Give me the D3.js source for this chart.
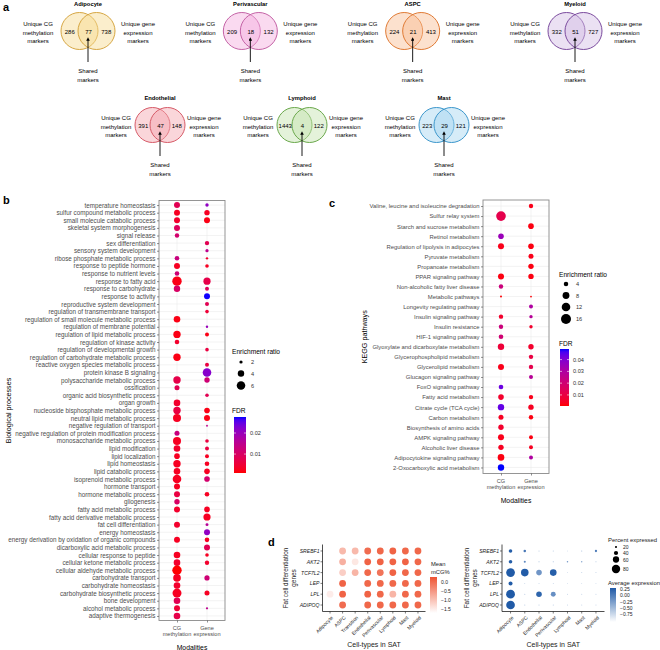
<!DOCTYPE html>
<html><head><meta charset="utf-8">
<script src="https://cdn.jsdelivr.net/npm/d3@7"></script>
<style>body{margin:0;background:#fff}svg{display:block}</style>
</head><body><svg id="fig" width="660" height="650"></svg>
<script>
// ================= DATA =================
// Panel a: Venn counts
const vennCells = ["Adipocyte","Perivascular","ASPC","Myeloid","Endothelial","Lymphoid","Mast"];
const vennUniqueCG = [286,209,224,332,391,1443,223];
const vennShared = [77,18,21,51,47,4,29];
const vennUniqueGene = [738,132,413,727,148,122,121];
const vennFill = ["#f7d98f","#f5aede","#f9bd92","#d2bde4","#f5a5ad","#c3e2ad","#a3d4ef"];
const vennStroke = ["#d6a642","#c462a6","#e07a34","#7b4b9e","#d65b68","#6aa84b","#3c97cc"];

// Panel b: GO biological processes
const modalities = ["CG methylation","Gene expression"];
const bTerms = ["temperature homeostasis","sulfur compound metabolic process","small molecule catabolic process","skeletal system morphogenesis","signal release","sex differentiation","sensory system development","ribose phosphate metabolic process","response to peptide hormone","response to nutrient levels","response to fatty acid","response to carbohydrate","response to activity","reproductive system development","regulation of transmembrane transport","regulation of small molecule metabolic process","regulation of membrane potential","regulation of lipid metabolic process","regulation of kinase activity","regulation of developmental growth","regulation of carbohydrate metabolic process","reactive oxygen species metabolic process","protein kinase B signaling","polysaccharide metabolic process","ossification","organic acid biosynthetic process","organ growth","nucleoside bisphosphate metabolic process","neutral lipid metabolic process","negative regulation of transport","negative regulation of protein modification process","monosaccharide metabolic process","lipid modification","lipid localization","lipid homeostasis","lipid catabolic process","isoprenoid metabolic process","hormone transport","hormone metabolic process","gliogenesis","fatty acid metabolic process","fatty acid derivative metabolic process","fat cell differentiation","energy homeostasis","energy derivation by oxidation of organic compounds","dicarboxylic acid metabolic process","cellular response to peptide","cellular ketone metabolic process","cellular aldehyde metabolic process","carbohydrate transport","carbohydrate homeostasis","carbohydrate biosynthetic process","bone development","alcohol metabolic process","adaptive thermogenesis"];
const bCgER = [3.64,3.64,3.64,3.64,2.58,null,null,2.69,3.64,2.69,7.0,3.96,null,null,null,4.13,null,4.84,2.69,null,4.84,null,null,4.84,2.94,null,4.13,4.84,5.44,null,2.94,5.44,4.13,3.35,4.84,4.13,6.07,3.64,3.64,3.2,3.64,null,3.64,null,3.64,null,4.13,4.13,7.0,5.04,4.13,6.53,4.13,3.64,4.13];
const bCgFDR = [.008,.003,.004,.009,.011,null,null,.013,.003,.012,.002,.010,null,null,null,.002,null,.002,.004,null,.002,null,null,.007,.008,null,.004,.006,.003,null,.013,.003,.004,.003,.003,.003,.003,.003,.006,.010,.004,null,.004,null,.003,null,.003,.004,.001,.003,.004,.003,.008,.005,.007];
const bGeneER = [2.08,3.2,3.64,null,null,2.58,2.0,1.7,2.17,null,4.66,2.36,3.64,2.36,2.17,null,1.7,2.36,null,2.17,null,2.36,6.07,3.2,null,2.17,null,3.35,3.64,1.55,null,2.17,2.36,2.36,2.69,3.35,3.35,null,2.69,null,3.35,4.66,1.9,3.64,2.69,3.64,2.17,2.58,null,3.07,null,2.94,null,1.65,null];
const bGeneFDR = [.021,.003,.002,null,null,.008,.015,.004,.003,null,.007,.009,.0275,.008,.005,null,.020,.002,null,.006,null,.006,.022,.012,null,.008,null,.002,.002,.015,null,.006,.006,.003,.003,.003,.011,null,.003,null,.003,.003,.016,.021,.003,.008,.003,.004,null,.012,null,.003,null,.015,null];
const bSizeBreaks = [2,4,6];
const bFdrBreaks = [0.01,0.02];

// Panel c: KEGG pathways
const cTerms = ["Valine, leucine and isoleucine degradation","Sulfur relay system","Starch and sucrose metabolism","Retinol metabolism","Regulation of lipolysis in adipocytes","Pyruvate metabolism","Propanoate metabolism","PPAR signaling pathway","Non-alcoholic fatty liver disease","Metabolic pathways","Longevity regulating pathway","Insulin signaling pathway","Insulin resistance","HIF-1 signaling pathway","Glyoxylate and dicarboxylate metabolism","Glycerophospholipid metabolism","Glycerolipid metabolism","Glucagon signaling pathway","FoxO signaling pathway","Fatty acid metabolism","Citrate cycle (TCA cycle)","Carbon metabolism","Biosynthesis of amino acids","AMPK signaling pathway","Alcoholic liver disease","Adipocytokine signaling pathway","2-Oxocarboxylic acid metabolism"];
const cCgER = [null,15,null,5.7,6.4,null,null,6.4,3.9,1.6,null,3.9,3.9,4.2,7.1,null,6.4,null,4.2,5.7,7.1,4.75,5.37,6.4,5.37,7.5,7.1];
const cCgFDR = [null,.012,null,.035,.003,null,null,.002,.022,.001,null,.006,.022,.020,.008,null,.003,null,.043,.006,.044,.004,.006,.003,.004,.002,.049];
const cGeneER = [3.9,null,5.7,null,5.7,4.75,5.37,5.37,null,1.5,3.4,2.75,2.75,null,5.37,3.9,3.9,3.4,null,3.9,5.37,3.9,null,3.4,3.4,3.4,null];
const cGeneFDR = [.003,null,.002,null,.002,.003,.002,.002,null,.001,.030,.028,.006,null,.006,.010,.012,.028,null,.003,.004,.002,null,.002,.004,.030,null];
const cSizeBreaks = [4,8,12,16];
const cFdrBreaks = [0.01,0.02,0.03,0.04];

// Panel d
const dGenes = ["SREBF1","AKT2","TCF7L2","LEP","LPL","ADIPOQ"];
const dCellsMethyl = ["Adipocyte","ASPC","Transition","Endothelial","Perivascular","Lymphoid","Mast","Myeloid"];
const mcgSREBF1 = [null,-0.9,-0.9,0.0,0.05,0.1,0.05,0.05];
const mcgAKT2   = [null,-0.8,-1.45,0.1,0.1,0.1,0.1,0.05];
const mcgTCF7L2 = [null,-1.15,-0.85,0.05,-0.1,0.1,0.05,0.05];
const mcgLEP    = [null,0.1,null,0.05,0.05,0.05,0.05,0.05];
const mcgLPL    = [-1.5,0.1,null,0.1,0.05,-0.85,0.05,0.05];
const mcgADIPOQ = [null,0.0,null,0.05,0.05,0.05,0.05,0.05];
const mcgBreaks = [0.0,-0.5,-1.0,-1.5];
const dCellsExpr = ["Adipocyte","ASPC","Endothelial","Perivascular","Lymphoid","Mast","Myeloid"];
const pctSREBF1 = [34,24,10,10,9,10,22];
const pctAKT2   = [34,20,10,10,14,13,10];
const pctTCF7L2 = [83,72,53,63,9,10,10];
const pctLEP    = [38,9,9,9,9,9,9];
const pctLPL    = [84,10,53,47,10,10,10];
const pctADIPOQ = [83,10,10,10,10,10,10];
const avgSREBF1 = [0.25,0.05,-0.6,-0.6,-0.7,-0.5,0.0];
const avgAKT2   = [0.25,-0.1,-0.5,-0.5,-0.2,-0.3,-0.6];
const avgTCF7L2 = [0.28,0.27,-0.2,0.25,-0.7,-0.7,-0.7];
const avgLEP    = [0.28,-0.6,-0.6,-0.6,-0.7,-0.7,-0.7];
const avgLPL    = [0.28,-0.6,0.2,-0.15,-0.7,-0.7,-0.7];
const avgADIPOQ = [0.28,-0.6,-0.6,-0.6,-0.7,-0.7,-0.7];
const pctBreaks = [20,40,60,80];
const avgBreaks = [0.25,0.00,-0.25,-0.50,-0.75];

// ================= DRAW =================
const FONT = '"Liberation Sans", Arial, Helvetica, sans-serif';
const svg = d3.select("#fig").attr("font-family", FONT);
const defs = svg.append("defs");
defs.append("marker").attr("id","arr").attr("viewBox","0 0 10 10").attr("refX",5).attr("refY",5)
  .attr("markerWidth",4).attr("markerHeight",4).attr("orient","auto")
  .append("path").attr("d","M0,0L10,5L0,10z").attr("fill","#000");

function txt(g, x, y, s, o = {}) {
  return g.append("text").attr("x", x).attr("y", y).text(s)
    .attr("font-size", o.fs || 6).attr("fill", o.fill || "#000")
    .attr("text-anchor", o.anchor || "start")
    .attr("dominant-baseline", o.base || "central")
    .attr("font-weight", o.bold ? "bold" : null)
    .attr("font-style", o.italic ? "italic" : null)
    .attr("transform", o.rot ? `rotate(${o.rot},${x},${y})` : null);
}

// ---------- Panel a ----------
const ga = svg.append("g");
txt(ga, 3, 7, "a", {fs: 11, bold: true});
const vx1 = d3.scalePoint().domain(vennCells.slice(0,4)).range([88, 575]);
const vx2 = d3.scalePoint().domain(vennCells.slice(4)).range([160, 444]);
vennCells.forEach((c, i) => {
  const row = i < 4 ? 0 : 1;
  const cx = row === 0 ? vx1(c) : vx2(c);
  const cy = row === 0 ? 31 : 125;
  const r = row === 0 ? 18.5 : 17.5;
  const d = row === 0 ? 17 : 15;
  const off = row === 0 ? 50 : 44;
  const g = ga.append("g");
  txt(g, cx, cy - 27, c, {fs: 5.8, bold: true, anchor: "middle"});
  [cx - d/2, cx + d/2].forEach(x => {
    g.append("circle").attr("cx", x).attr("cy", cy).attr("r", r)
      .attr("fill", vennFill[i]).attr("fill-opacity", 0.45)
      .attr("stroke", vennStroke[i]).attr("stroke-width", 1);
  });
  txt(g, cx - d/2 - r/2 - 0.5, cy + 0.5, vennUniqueCG[i], {fs: 6, anchor: "middle"});
  txt(g, cx + 0.5, cy + 0.5, vennShared[i], {fs: 6, anchor: "middle"});
  txt(g, cx + d/2 + r/2 + 0.5, cy + 0.5, vennUniqueGene[i], {fs: 6, anchor: "middle"});
  ["Unique CG","methylation","markers"].forEach((s, k) => txt(g, cx - off, cy - 7 + k*8.5, s, {fs: 6, anchor: "middle"}));
  ["Unique gene","expression","markers"].forEach((s, k) => txt(g, cx + off, cy - 7 + k*8.5, s, {fs: 6, anchor: "middle"}));
  g.append("line").attr("x1", cx).attr("x2", cx).attr("y1", cy + 31).attr("y2", cy + 8)
    .attr("stroke", "#000").attr("stroke-width", 0.9).attr("marker-end", "url(#arr)");
  ["Shared","markers"].forEach((s, k) => txt(g, cx, cy + 40 + k*8.5, s, {fs: 6, anchor: "middle"}));
});

// ---------- dot plot helper (b, c) ----------
function dotPlot(cfg) {
  const g = svg.append("g");
  const x = d3.scalePoint().domain(modalities).range([cfg.x0, cfg.x1]).padding(0.6);
  const y = d3.scalePoint().domain(cfg.terms).range([cfg.y0, cfg.y1]).padding(0.6);
  g.append("rect").attr("x", cfg.x0).attr("y", cfg.y0).attr("width", cfg.x1 - cfg.x0).attr("height", cfg.y1 - cfg.y0).attr("fill", "#fff");
  g.selectAll(".hg").data(cfg.terms).join("line").attr("x1", cfg.x0).attr("x2", cfg.x1)
    .attr("y1", d => y(d)).attr("y2", d => y(d)).attr("stroke", "#ebebeb").attr("stroke-width", 0.6);
  g.selectAll(".vg").data(modalities).join("line").attr("y1", cfg.y0).attr("y2", cfg.y1)
    .attr("x1", d => x(d)).attr("x2", d => x(d)).attr("stroke", "#ebebeb").attr("stroke-width", 0.6);
  const pts = [];
  cfg.terms.forEach((t, i) => {
    if (cfg.cgER[i] != null) pts.push({t, m: modalities[0], er: cfg.cgER[i], fdr: cfg.cgFDR[i]});
    if (cfg.geneER[i] != null) pts.push({t, m: modalities[1], er: cfg.geneER[i], fdr: cfg.geneFDR[i]});
  });
  g.selectAll("circle.pt").data(pts).join("circle").attr("class", "pt")
    .attr("cx", d => x(d.m)).attr("cy", d => y(d.t))
    .attr("r", d => Math.sqrt(Math.max(0.3, cfg.area(d.er)))).attr("fill", d => cfg.color(d.fdr));
  g.append("rect").attr("x", cfg.x0).attr("y", cfg.y0).attr("width", cfg.x1 - cfg.x0).attr("height", cfg.y1 - cfg.y0)
    .attr("fill", "none").attr("stroke", "#8a8a8a").attr("stroke-width", 0.9);
  const ya = g.append("g").attr("transform", `translate(${cfg.x0},0)`).call(d3.axisLeft(y).tickSize(2).tickPadding(1.5));
  ya.select(".domain").remove();
  ya.selectAll("line").attr("stroke", "#444").attr("stroke-width", 0.6);
  ya.selectAll("text").attr("font-size", cfg.fs).attr("fill", "#4d4d4d").attr("font-family", FONT);
  const xa = g.append("g").attr("transform", `translate(0,${cfg.y1})`).call(d3.axisBottom(x).tickSize(2).tickFormat(""));
  xa.select(".domain").remove();
  xa.selectAll("line").attr("stroke", "#444").attr("stroke-width", 0.6);
  modalities.forEach(m => {
    const parts = m.split(" ");
    parts.forEach((p, k) => txt(g, x(m), cfg.y1 + 7 + k * 6.5, p, {fs: 5.6, anchor: "middle", fill: "#4d4d4d"}));
  });
  txt(g, (cfg.x0 + cfg.x1) / 2, cfg.y1 + 27, "Modalities", {fs: 6.8, anchor: "middle"});
  txt(g, cfg.ytx, (cfg.y0 + cfg.y1) / 2, cfg.ytitle, {fs: 7.2, anchor: "middle", rot: -90});
  // size legend
  const L = cfg.leg;
  txt(g, L.x, L.ty, "Enrichment ratio", {fs: 6.6});
  cfg.sizeBreaks.forEach((b, k) => {
    g.append("circle").attr("cx", L.dx).attr("cy", L.sy[k]).attr("r", Math.sqrt(cfg.area(b))).attr("fill", "#000");
    txt(g, L.lx, L.sy[k], b, {fs: 5.6, fill: "#333"});
  });
  // color legend
  txt(g, L.x, L.fty, "FDR", {fs: 6.6});
  const gid = "grad" + cfg.id;
  const grad = defs.append("linearGradient").attr("id", gid).attr("x1", 0).attr("x2", 0).attr("y1", 1).attr("y2", 0);
  const dom = cfg.color.domain();
  d3.range(0, 1.0001, 0.05).forEach(t => grad.append("stop").attr("offset", t).attr("stop-color", cfg.color(dom[0] + t * (dom[1] - dom[0]))));
  const by = d3.scaleLinear().domain(dom).range([L.by1, L.by0]);
  g.append("rect").attr("x", L.bx).attr("y", L.by0).attr("width", L.bw).attr("height", L.by1 - L.by0).attr("fill", `url(#${gid})`);
  cfg.fdrBreaks.forEach(b => {
    g.append("line").attr("x1", L.bx).attr("x2", L.bx + 2).attr("y1", by(b)).attr("y2", by(b)).attr("stroke", "#fff").attr("stroke-width", 0.6);
    g.append("line").attr("x1", L.bx + L.bw - 2).attr("x2", L.bx + L.bw).attr("y1", by(b)).attr("y2", by(b)).attr("stroke", "#fff").attr("stroke-width", 0.6);
    txt(g, L.bx + L.bw + 4, by(b), d3.format(".2f")(b), {fs: 5.6, fill: "#333"});
  });
}

// ---------- Panel b ----------
txt(svg, 3, 200, "b", {fs: 11, bold: true});
dotPlot({
  id: "b", terms: bTerms, cgER: bCgER, cgFDR: bCgFDR, geneER: bGeneER, geneFDR: bGeneFDR,
  x0: 159, x1: 225, y0: 200.5, y1: 620.5, fs: 6.3, ytx: 8, ytitle: "Biological processes",
  area: d3.scaleLinear().domain([1.5, 7]).range([0.64, 22.1]),
  color: d3.scaleLinear().domain([0.001, 0.0276]).range(["red", "blue"]).interpolate(d3.interpolateLab),
  sizeBreaks: bSizeBreaks, fdrBreaks: bFdrBreaks,
  leg: {x: 232, ty: 351, dx: 241, lx: 251, sy: [362, 373.5, 385.5], fty: 410, bx: 234, bw: 12, by0: 417, by1: 473}
});

// ---------- Panel c ----------
txt(svg, 329, 203, "c", {fs: 11, bold: true});
dotPlot({
  id: "c", terms: cTerms, cgER: cCgER, cgFDR: cCgFDR, geneER: cGeneER, geneFDR: cGeneFDR,
  x0: 483, x1: 549, y0: 200, y1: 473.5, fs: 5.9, ytx: 364, ytitle: "KEGG pathways",
  area: d3.scaleLinear().domain([1.5, 17]).range([0.8, 26.8]),
  color: d3.scaleLinear().domain([0.0006, 0.049]).range(["red", "blue"]).interpolate(d3.interpolateLab),
  sizeBreaks: cSizeBreaks, fdrBreaks: cFdrBreaks,
  leg: {x: 559, ty: 274, dx: 566, lx: 576, sy: [284, 295.5, 307, 319], fty: 343, bx: 560, bw: 9, by0: 349, by1: 406}
});

// ---------- Panel d ----------
txt(svg, 268, 542, "d", {fs: 11, bold: true});
function dAxes(g, x, y, x0, x1, y0, y1, cells, tx1, tx2) {
  g.append("line").attr("x1", x0).attr("x2", x0).attr("y1", y0).attr("y2", y1).attr("stroke", "#222").attr("stroke-width", 0.8);
  g.append("line").attr("x1", x0).attr("x2", x1).attr("y1", y1).attr("y2", y1).attr("stroke", "#222").attr("stroke-width", 0.8);
  dGenes.forEach(gn => {
    g.append("line").attr("x1", x0 - 2).attr("x2", x0).attr("y1", y(gn)).attr("y2", y(gn)).attr("stroke", "#222").attr("stroke-width", 0.6);
    txt(g, x0 - 3, y(gn), gn, {fs: 5.1, anchor: "end", italic: true, fill: "#222"});
  });
  cells.forEach(c => {
    g.append("line").attr("x1", x(c)).attr("x2", x(c)).attr("y1", y1).attr("y2", y1 + 2).attr("stroke", "#222").attr("stroke-width", 0.6);
    g.append("text").attr("x", x(c) + 2).attr("y", y1 + 5).text(c).attr("font-size", 5).attr("fill", "#222")
      .attr("text-anchor", "end").attr("dominant-baseline", "central")
      .attr("transform", `rotate(-45,${x(c) + 2},${y1 + 5})`);
  });
  txt(g, tx1, (y0 + y1) / 2, "Fat cell differentiation", {fs: 6.4, anchor: "middle", rot: -90, fill: "#222"});
  txt(g, tx2, (y0 + y1) / 2, "genes", {fs: 6.4, anchor: "middle", rot: -90, fill: "#222"});
  txt(g, (x0 + x1) / 2, 644, "Cell-types in SAT", {fs: 7, anchor: "middle", fill: "#222"});
}
// left: methylation
{
  const g = svg.append("g");
  const x0 = 322.5, x1 = 425.5, y0 = 544.5, y1 = 611.5;
  const x = d3.scalePoint().domain(dCellsMethyl).range([x0, x1]).padding(0.6);
  const y = d3.scalePoint().domain(dGenes).range([y0, y1]).padding(0.6);
  const col = d3.scaleLinear().domain([-1.72, 0.28]).range(["#ffffff", "#ee5433"]);
  const rows = [mcgSREBF1, mcgAKT2, mcgTCF7L2, mcgLEP, mcgLPL, mcgADIPOQ];
  const pts = [];
  rows.forEach((r, i) => r.forEach((v, j) => { if (v != null) pts.push({g: dGenes[i], c: dCellsMethyl[j], v}); }));
  g.selectAll("circle").data(pts).join("circle").attr("cx", d => x(d.c)).attr("cy", d => y(d.g)).attr("r", 3.4).attr("fill", d => col(d.v));
  dAxes(g, x, y, x0, x1, y0, y1, dCellsMethyl, 285, 293);
  txt(g, 431, 564, "Mean", {fs: 5.8, fill: "#222"});
  txt(g, 431, 571.5, "mCG%", {fs: 5.8, fill: "#222"});
  const grad = defs.append("linearGradient").attr("id", "gradM").attr("x1", 0).attr("x2", 0).attr("y1", 1).attr("y2", 0);
  d3.range(0, 1.0001, 0.1).forEach(t => grad.append("stop").attr("offset", t).attr("stop-color", col(-1.72 + t * 2)));
  const by = d3.scaleLinear().domain([-1.72, 0.28]).range([613, 577]);
  g.append("rect").attr("x", 430).attr("y", 577).attr("width", 7).attr("height", 36).attr("fill", "url(#gradM)");
  mcgBreaks.forEach(b => txt(g, 441, by(b), d3.format(".1f")(b), {fs: 5, fill: "#222"}));
}
// right: expression
{
  const g = svg.append("g");
  const x0 = 502, x1 = 604.5, y0 = 544.5, y1 = 611.5;
  const x = d3.scalePoint().domain(dCellsExpr).range([x0, x1]).padding(0.6);
  const y = d3.scalePoint().domain(dGenes).range([y0, y1]).padding(0.6);
  const col = d3.scaleLinear().domain([-1.07, 0.29]).range(["#ffffff", "#1f5aa6"]);
  const rad = d3.scaleLinear().domain([0, 80]).range([0, 4.2]);
  const pr = [pctSREBF1, pctAKT2, pctTCF7L2, pctLEP, pctLPL, pctADIPOQ];
  const ar = [avgSREBF1, avgAKT2, avgTCF7L2, avgLEP, avgLPL, avgADIPOQ];
  const pts = [];
  pr.forEach((r, i) => r.forEach((v, j) => pts.push({g: dGenes[i], c: dCellsExpr[j], p: v, a: ar[i][j]})));
  g.selectAll("circle").data(pts).join("circle").attr("cx", d => x(d.c)).attr("cy", d => y(d.g)).attr("r", d => rad(d.p)).attr("fill", d => col(d.a));
  dAxes(g, x, y, x0, x1, y0, y1, dCellsExpr, 466, 474);
  txt(g, 608, 540, "Percent expressed", {fs: 5.9, fill: "#222"});
  const sy = [547, 553, 559.5, 569];
  pctBreaks.forEach((b, k) => {
    g.append("circle").attr("cx", 616).attr("cy", sy[k]).attr("r", rad(b)).attr("fill", "#000");
    txt(g, 623, sy[k], b, {fs: 5, fill: "#222"});
  });
  txt(g, 608, 583, "Average expression", {fs: 5.9, fill: "#222"});
  const grad = defs.append("linearGradient").attr("id", "gradE").attr("x1", 0).attr("x2", 0).attr("y1", 1).attr("y2", 0);
  d3.range(0, 1.0001, 0.1).forEach(t => grad.append("stop").attr("offset", t).attr("stop-color", col(-1.07 + t * 1.36)));
  const by = d3.scaleLinear().domain([-1.07, 0.29]).range([622, 588]);
  g.append("rect").attr("x", 610).attr("y", 588).attr("width", 6).attr("height", 34).attr("fill", "url(#gradE)");
  avgBreaks.forEach(b => txt(g, 620, by(b), d3.format(".2f")(b), {fs: 5, fill: "#222"}));
}
</script>
</body></html>
